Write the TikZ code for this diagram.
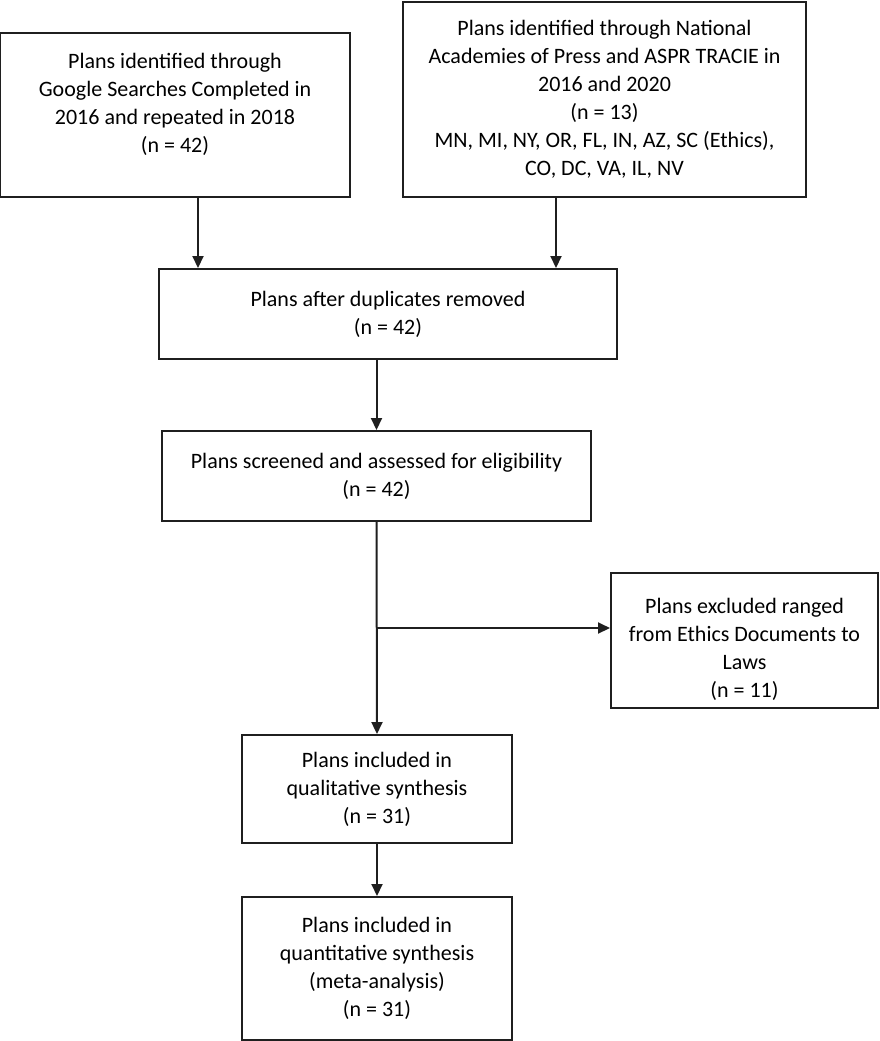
\documentclass[tikz,border=0pt]{standalone}
\usepackage{fontspec}
\setmainfont{Carlito}
\usetikzlibrary{arrows.meta}

\newcommand{\toppad}{\rule{0pt}{16.5pt}}
\newcommand{\botpad}{\rule[-12.5pt]{0pt}{12.5pt}}

\begin{document}
\begin{tikzpicture}[%
      x=0.5pt, y=-0.5pt,
      box/.style={draw=black!88, line width=1pt, align=center,
        font=\fontsize{11pt}{14pt}\selectfont, inner sep=2pt},
      arr/.style={draw=black!88, line width=1pt,
        -{Triangle[width=5.5pt,length=6pt]}},
      ]
      \useasboundingbox (0,0) rectangle (880,1041);

      \node[box, minimum width=175pt, minimum height=82pt] (ggl) at (175,115)
        {Plans identified through\\Google Searches Completed in\\2016 and repeated in 2018\\(n = 42)\botpad};
      \node[box, minimum width=201.5pt, minimum height=97.5pt] (nap) at (604.5,99.5)
        {Plans identified through National\\Academies of Press and ASPR TRACIE in\\2016 and 2020\\(n = 13)\\MN, MI, NY, OR, FL, IN, AZ, SC (Ethics),\\CO, DC, VA, IL, NV};
      \node[box, minimum width=229pt, minimum height=45pt] (dup) at (388,314)
        {Plans after duplicates removed\\(n = 42)};
      \node[box, minimum width=214.5pt, minimum height=45pt] (scr) at (376.5,476)
        {Plans screened and assessed for eligibility\\(n = 42)};
      \node[box, minimum width=133.5pt, minimum height=67.5pt] (excl) at (744.5,640.5)
        {\toppad Plans excluded ranged\\from Ethics Documents to\\Laws\\(n = 11)};
      \node[box, minimum width=135pt, minimum height=54pt] (qual) at (377,789)
        {Plans included in\\qualitative synthesis\\(n = 31)};
      \node[box, minimum width=135pt, minimum height=71.5pt] (quant) at (377,968.5)
        {Plans included in\\quantitative synthesis\\(meta-analysis)\\(n = 31)};

      \coordinate (split) at (377,628);

      \draw[arr] ([xshift=11.5pt]ggl.south) -- ([xshift=11.5pt]ggl.south |- dup.north);
      \draw[arr] ([xshift=-24.25pt]nap.south) -- ([xshift=-24.25pt]nap.south |- dup.north);
      \draw[arr] (scr.north |- dup.south) -- (scr.north);
      \draw[arr] (scr.south) -- (qual.north);
      \draw[arr] (split) -- (split -| excl.west);
      \draw[arr] (qual) -- (quant);
\end{tikzpicture}
\end{document}
